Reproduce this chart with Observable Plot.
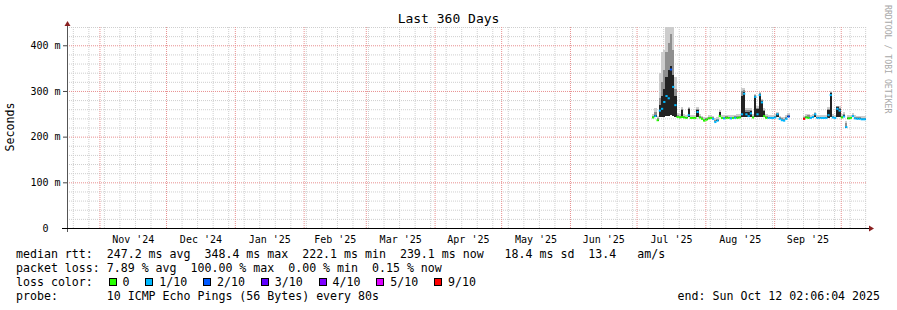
<!DOCTYPE html>
<html><head><meta charset="utf-8">
<script src="https://cdn.jsdelivr.net/npm/d3@7"></script>
<script src="https://cdn.jsdelivr.net/npm/@observablehq/plot@0.6"></script>
<style>
html,body{margin:0;padding:0;background:#fff;}
#wrap{position:relative;width:897px;height:310px;background:#fff;font-family:"DejaVu Sans Mono",monospace;color:#000;overflow:hidden;}
#wrap svg{display:block;}
#title{height:20px;box-sizing:border-box;padding-top:12px;line-height:14px;font-size:13px;text-align:center;white-space:pre;}
#legend{padding:2px 0 0 16px;font-size:11.6px;line-height:14px;white-space:pre;}
#legend .row{height:14px;}
#legend .last{display:flex;justify-content:space-between;margin-right:17px;}
.sw{display:inline-block;width:6px;height:6px;border:1px solid #000;vertical-align:middle;position:relative;top:-1px;margin-left:15.8px;}
.lt{margin-left:6px;}
#ylab{position:absolute;left:10px;top:127px;transform:translate(-50%,-50%) rotate(-90deg);font-size:11.6px;white-space:nowrap;}
#credit{position:absolute;left:884px;top:5px;writing-mode:vertical-rl;font-size:8.2px;line-height:8px;color:#a8a8a8;white-space:nowrap;}
</style></head>
<body>
<div id="wrap">
  <div id="title">Last 360 Days</div>
  <div id="ylab">Seconds</div>
  <div id="credit">RRDTOOL / TOBI OETIKER</div>
</div>
<script>
// ---- data (ms), one value per day from 2025-07-08 to 2025-10-12 ----
const firstDay = "2025-07-08";
const endStamp = "2025-10-12T09:06:04Z";

const medianRtt = [
  243, 246, 237, 258, 262, 277, 290,
  285, 348, 310, 270, 244, 243, 244,
  243, 242, 248, 242, 242, 242, 255,
  243, 240, 236, 238, 241, 242, 240,
  233, 236, 246, 242, 241, 242, 242,
  241, 242, 242, 242, 243, 250, 295,
  250, 246, 252, 243, 288, 250, 292,
  276, 246, 242, 242, 242, 242, 243,
  250, 240, 237, 236, 240, 245, null,
  null, null, null, null, null, 240, 243,
  242, 242, 244, 250, 242, 242, 242,
  242, 242, 248, 292, 243, 242, 262,
  258, 243, 245, 222, 241, 242, 246,
  241, 240, 240, 239, 239, 239
];
const lossCount = [
  0, 1, 0, 1, 1, 1, 1,
  1, 2, 1, 1, 0, 0, 0,
  0, 0, 1, 0, 0, 0, 1,
  0, 0, 0, 0, 0, 0, 1,
  1, 1, 0, 0, 1, 0, 0,
  1, 0, 1, 0, 0, 1, 1,
  1, 1, 1, 0, 1, 1, 1,
  1, 0, 0, 1, 1, 1, 1,
  1, 1, 1, 1, 1, 2, null,
  null, null, null, null, null, 9, 0,
  0, 1, 1, 1, 1, 1, 1,
  1, 1, 1, 1, 1, 1, 1,
  1, 0, 1, 1, 0, 0, 1,
  1, 1, 1, 1, 1, 1
];
const smokeLow = [
  241, 244, 235, 242, 243, 244, 245,
  246, 247, 246, 244, 242, 241, 242,
  241, 240, 242, 240, 240, 240, 242,
  241, 238, 234, 236, 239, 240, 238,
  231, 234, 242, 240, 239, 240, 240,
  239, 240, 240, 240, 241, 242, 242,
  243, 243, 243, 241, 242, 242, 243,
  243, 243, 240, 240, 240, 240, 241,
  243, 238, 235, 234, 238, 243, null,
  null, null, null, null, null, 238, 241,
  240, 240, 242, 242, 240, 240, 240,
  240, 240, 241, 242, 241, 240, 242,
  242, 241, 242, 219, 239, 240, 242,
  239, 238, 238, 237, 237, 237
];
const smokeInner = [
  243, 248, 237, 270, 290, 305, 330,
  345, 355, 335, 290, 244, 243, 259,
  243, 242, 260, 242, 242, 242, 258,
  243, 240, 236, 238, 241, 242, 240,
  233, 236, 253, 242, 241, 242, 242,
  241, 242, 242, 242, 243, 290, 297,
  255, 255, 256, 243, 290, 260, 294,
  278, 256, 242, 242, 242, 242, 243,
  250, 240, 237, 236, 240, 245, null,
  null, null, null, null, null, 240, 243,
  242, 242, 244, 250, 242, 242, 242,
  242, 242, 259, 295, 243, 242, 264,
  261, 243, 248, 222, 241, 242, 246,
  241, 240, 240, 239, 239, 239
];
const smokeMid = [
  245, 254, 240, 285, 320, 345, 385,
  405, 425, 390, 305, 247, 245, 261,
  245, 244, 262, 244, 244, 244, 261,
  245, 242, 238, 240, 243, 244, 242,
  236, 239, 255, 244, 244, 245, 244,
  243, 244, 245, 245, 246, 300, 302,
  258, 258, 258, 246, 292, 263, 296,
  280, 258, 246, 244, 244, 244, 245,
  252, 242, 240, 239, 243, 248, null,
  null, null, null, null, null, 243, 245,
  247, 244, 246, 252, 244, 244, 244,
  244, 244, 261, 297, 245, 244, 266,
  263, 245, 250, 230, 243, 244, 248,
  243, 242, 242, 241, 241, 241
];
const smokeHigh = [
  249, 262, 246, 340, 385, 390, 440,
  440, 440, 440, 330, 252, 250, 264,
  249, 248, 265, 248, 248, 248, 264,
  249, 246, 242, 244, 247, 248, 246,
  240, 243, 258, 248, 248, 248, 248,
  247, 248, 248, 249, 250, 306, 306,
  262, 262, 262, 250, 294, 266, 298,
  283, 262, 250, 248, 248, 248, 249,
  255, 246, 244, 243, 247, 252, null,
  null, null, null, null, null, 246, 249,
  250, 248, 250, 255, 248, 248, 248,
  248, 248, 264, 300, 249, 248, 268,
  266, 249, 253, 235, 247, 248, 252,
  247, 246, 246, 245, 245, 245
];

const monthLabels = ["Nov '24","Dec '24","Jan '25","Feb '25","Mar '25","Apr '25","May '25","Jun '25","Jul '25","Aug '25","Sep '25"];
const yTicks = [0, 100, 200, 300, 400];
const yMinor = [20,40,60,80,120,140,160,180,220,240,260,280,320,340,360,380,420,440];
const yMajor = [100, 200, 300, 400];
const lossLegendLabels = ["0","1/10","2/10","3/10","4/10","5/10","9/10"];
const lossLegendColors = ["#26ff00","#00b8ff","#0059ff","#5e00ff","#7e00ff","#dd00ff","#ff0000"];

const statsRtt = "median rtt:  247.2 ms avg  348.4 ms max  222.1 ms min  239.1 ms now   18.4 ms sd  13.4   am/s";
const statsLoss = "packet loss: 7.89 % avg  100.00 % max  0.00 % min  0.15 % now";
const probeText = "probe:       10 ICMP Echo Pings (56 Bytes) every 80s";
const endText = "end: Sun Oct 12 02:06:04 2025";

// ---- build ----
const endTime = new Date(endStamp);
const startTime = new Date(+endTime - 360 * 864e5);
const days = d3.utcDay.range(new Date(firstDay + "T00:00:00Z"), d3.utcDay.offset(d3.utcDay.floor(endTime), 1));
const lossColor = n => lossLegendColors[Math.min(n, 6)];
const rows = days.map((d, i) => ({
  date: d,
  next: i + 1 < days.length ? days[i + 1] : endTime,
  med: medianRtt[i], loss: lossCount[i],
  lo: smokeLow[i], inner: smokeInner[i], mid: smokeMid[i], high: smokeHigh[i]
})).filter(r => r.med != null);

const monthStarts = d3.utcMonth.range(d3.utcMonth.ceil(startTime), endTime);
const monthMids = d3.utcMonth.range(d3.utcMonth.ceil(startTime), d3.utcMonth.floor(endTime))
  .map(m => new Date((+m + +d3.utcMonth.offset(m, 1)) / 2));
const labelByTime = new Map(monthMids.map((d, i) => [+d, monthLabels[i]]));
const weeks = d3.utcSunday.range(startTime, endTime);

const minorStyle = {stroke: "#cfcfcf", strokeDasharray: "1,1"};
const majorStyle = {stroke: "#e89090", strokeDasharray: "1,1"};

const chart = Plot.plot({
  width: 897, height: 225,
  marginTop: 7, marginBottom: 17, marginLeft: 67, marginRight: 31,
  style: {fontFamily: "DejaVu Sans Mono", fontSize: "10px", background: "transparent", color: "#000"},
  x: {type: "utc", domain: [startTime, endTime]},
  y: {domain: [0, 440]},
  marks: [
    Plot.ruleY(yMinor, minorStyle),
    Plot.ruleX(weeks, minorStyle),
    Plot.ruleY(yMajor, majorStyle),
    Plot.ruleX(monthStarts, majorStyle),
    Plot.rect(rows, {x1: "date", x2: "next", y1: "lo", y2: "high", fill: "#cdcdcd", shapeRendering: "crispEdges"}),
    Plot.rect(rows, {x1: "date", x2: "next", y1: "lo", y2: "mid", fill: "#8f8f8f", shapeRendering: "crispEdges"}),
    Plot.rect(rows, {x1: "date", x2: "next", y1: "lo", y2: "inner", fill: "#222222", shapeRendering: "crispEdges"}),
    Plot.ruleY(rows, {y: "med", x1: "date", x2: "next", stroke: d => lossColor(d.loss), strokeWidth: 2}),
    Plot.axisX({ticks: monthMids, tickFormat: d => labelByTime.get(+d), tickSize: 0, tickPadding: 7, label: null}),
    Plot.axisY({ticks: yTicks, tickFormat: d => d === 0 ? "0\u00a0\u00a0" : `${d} m`, tickSize: 4, tickPadding: 3, label: null, stroke: "#444"})
  ]
});

// axis lines with arrowheads (rrdtool style)
const xs = chart.scale("x"), ys = chart.scale("y");
const X0 = xs.range[0], X1 = xs.range[1], Yb = ys.range[0], Yt = ys.range[1];
const g = d3.select(chart).append("g");
g.append("line").attr("x1", X0 + 0.5).attr("x2", X0 + 0.5).attr("y1", Yb + 4).attr("y2", Yt - 2).attr("stroke", "#555");
g.append("line").attr("x1", X0 - 5).attr("x2", X1 + 4).attr("y1", Yb + 0.5).attr("y2", Yb + 0.5).attr("stroke", "#000");
g.append("path").attr("d", `M${X0 - 2.5},${Yt - 1}L${X0 + 3.5},${Yt - 1}L${X0 + 0.5},${Yt - 6}Z`).attr("fill", "#8a2020");
g.append("path").attr("d", `M${X1 + 3},${Yb - 2.5}L${X1 + 3},${Yb + 3.5}L${X1 + 8},${Yb + 0.5}Z`).attr("fill", "#8a2020");

const wrap = document.getElementById("wrap");
wrap.insertBefore(chart, document.getElementById("ylab"));

// legend
const legend = document.createElement("div");
legend.id = "legend";
const r1 = document.createElement("div"); r1.className = "row"; r1.textContent = statsRtt;
const r2 = document.createElement("div"); r2.className = "row"; r2.textContent = statsLoss;
const r3 = document.createElement("div"); r3.className = "row"; r3.append("loss color:");
lossLegendLabels.forEach((lab, i) => {
  const sw = document.createElement("span"); sw.className = "sw"; sw.style.background = lossLegendColors[i];
  const t = document.createElement("span"); t.className = "lt"; t.textContent = lab;
  r3.append(sw, t);
});
const r4 = document.createElement("div"); r4.className = "row last";
const p1 = document.createElement("span"); p1.textContent = probeText;
const p2 = document.createElement("span"); p2.textContent = endText;
r4.append(p1, p2);
legend.append(r1, r2, r3, r4);
wrap.insertBefore(legend, document.getElementById("ylab"));
</script>
</body></html>
